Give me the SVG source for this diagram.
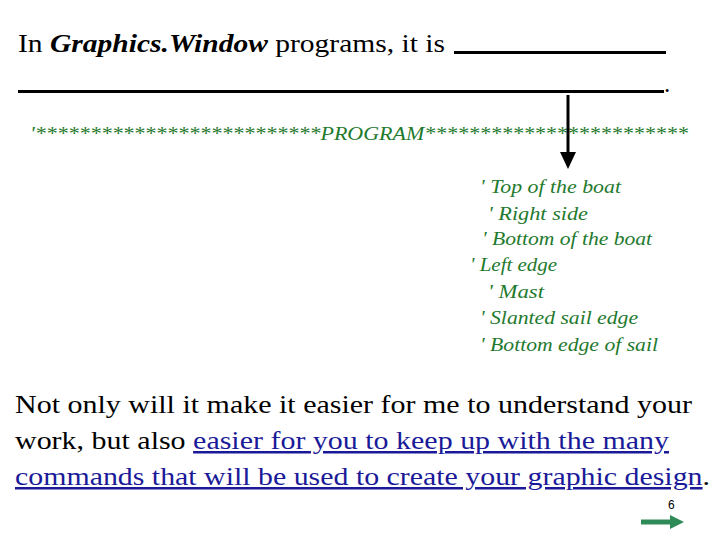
<svg xmlns="http://www.w3.org/2000/svg" width="720" height="540" viewBox="0 0 720 540">
<style>
.t{font-size:25px;fill:#000}
.c{font-style:italic;font-size:19px;fill:#1f7a2e}
.u{fill:#1a1a99;text-decoration:underline}
</style>
<rect width="720" height="540" fill="#fff"/>
<g id="title" font-family="Liberation Serif, Times New Roman, serif">
<text class="t" x="18" y="52" textLength="427" lengthAdjust="spacingAndGlyphs">In <tspan font-style="italic" font-weight="bold">Graphics.Window</tspan> programs, it is</text>
<rect x="454" y="51" width="212" height="3" fill="#000"/>
<rect x="18" y="90" width="646" height="3" fill="#000"/>
<text class="t" x="664" y="92">.</text>
</g>
<g id="code" font-family="Liberation Serif, serif">
<text class="c" x="30" y="140" textLength="658" lengthAdjust="spacingAndGlyphs">'**************************PROGRAM************************</text>
<text class="c" x="480" y="193" textLength="141" lengthAdjust="spacingAndGlyphs">' Top of the boat</text>
<text class="c" x="488" y="220" textLength="100" lengthAdjust="spacingAndGlyphs">' Right side</text>
<text class="c" x="482" y="245" textLength="170" lengthAdjust="spacingAndGlyphs">' Bottom of the boat</text>
<text class="c" x="470" y="271" textLength="87" lengthAdjust="spacingAndGlyphs">' Left edge</text>
<text class="c" x="488" y="298" textLength="56" lengthAdjust="spacingAndGlyphs">' Mast</text>
<text class="c" x="480" y="324" textLength="158" lengthAdjust="spacingAndGlyphs">' Slanted sail edge</text>
<text class="c" x="480" y="351" textLength="178" lengthAdjust="spacingAndGlyphs">' Bottom edge of sail</text>
</g>
<g id="connectors">
<line x1="568" y1="95" x2="568" y2="155" stroke="#000" stroke-width="3"/>
<polygon points="560,152 576,152 568,169" fill="#000"/>
<line x1="641" y1="522" x2="672" y2="522" stroke="#2e8b57" stroke-width="5"/>
<polygon points="670,515 684,522 670,529" fill="#2e8b57"/>
</g>
<g id="body" font-family="Liberation Serif, Times New Roman, serif">
<text class="t" x="15" y="413" textLength="677" lengthAdjust="spacingAndGlyphs">Not only will it make it easier for me to understand your</text>
<text class="t" x="15" y="449" textLength="654" lengthAdjust="spacingAndGlyphs">work, but also <tspan class="u">easier for you to keep up with the many</tspan></text>
<text class="t" x="15" y="485" textLength="695" lengthAdjust="spacingAndGlyphs"><tspan class="u">commands that will be used to create your graphic design</tspan>.</text>
<text x="668" y="509" font-family="Liberation Sans, sans-serif" font-size="12">6</text>
</g>
</svg>
